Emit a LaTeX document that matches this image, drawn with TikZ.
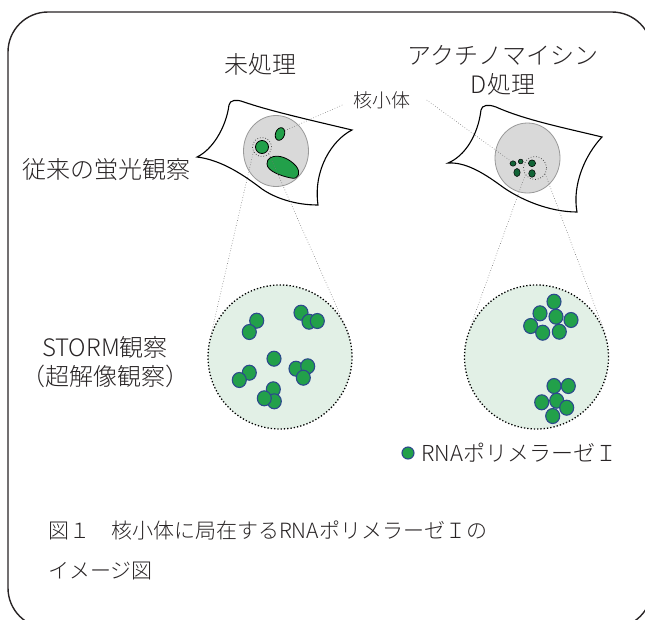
\documentclass[tikz,border=0pt]{standalone}
\usepackage{fontspec}
\setmainfont{Noto Sans CJK JP Light}
\usepackage{tikz}

\definecolor{txtgray}{RGB}{40,36,37}
\definecolor{polgreen}{RGB}{34,160,74}
\definecolor{poledge}{RGB}{44,74,140}
\definecolor{nucgray}{RGB}{217,217,217}
\definecolor{fieldmint}{RGB}{226,240,230}
\definecolor{darkgreen}{RGB}{18,100,55}

\begin{document}
\begin{tikzpicture}[x=1pt, y=-1pt,
    lbl/.style={text=txtgray, inner sep=0pt, font=\fontsize{24}{29}\selectfont},
    cell/.style={draw=black, line width=1.1pt, fill=white},
    nuc/.style={draw=gray!80, line width=0.8pt, fill=nucgray},
    blob/.style={draw=black, line width=0.8pt, fill=polgreen},
    pol/.style={draw=poledge, line width=1.1pt, fill=polgreen},
    guia/.style={dotted, gray!90!black, line width=0.6pt},
    lupa/.style={circle, draw=black!80, dotted, line width=0.7pt, inner sep=0pt},
    campo/.style={circle, draw=black, dotted, line width=1.3pt, fill=fieldmint, minimum size=144pt, inner sep=0pt}]
    \useasboundingbox (0,0) rectangle (645,619);

    % marco redondeado (cortado a la derecha y abajo)
    \begin{scope}
        \clip (0,0) rectangle (645,619);
        \draw[txtgray, line width=1.4pt, rounded corners=40pt] (8,12) rectangle (652,628);
    \end{scope}

    % titulos
    \node[lbl] (sinproc) at (260,64) {未処理};
    \node[lbl, align=center] (actd) at (503,70) {アクチノマイシン\\D処理};
    \node[lbl, anchor=west] (conv) at (22,170) {従来の蛍光観察};
    \node[lbl, align=center] (storm) at (105,362) {STORM観察\\（超解像観察）};

    % celula sin tratar
    \draw[cell] (197,157)
        .. controls (212,150) and (226,128) .. (229,105)
        .. controls (230,100) and (236,99) .. (244,102)
        .. controls (270,111) and (310,120) .. (352,130)
        .. controls (332,140) and (313,170) .. (318,205)
        .. controls (295,205) and (275,198) .. (262,189)
        .. controls (245,176) and (222,160) .. (197,157) -- cycle;
    \draw[nuc] (276,151) ellipse (32.5 and 35.5);
    \draw[blob, rotate around={-20:(280,134)}] (280,134) ellipse (4.5 and 6.5);
    \draw[blob] (262,147) circle (6.5);
    \draw[blob] (270,158) .. controls (278,153) and (290,159) .. (296,166)
        .. controls (301,172) and (299,180) .. (291,178)
        .. controls (281,176) and (267,171) .. (267,164)
        .. controls (267,161) and (268,159) .. (270,158) -- cycle;
    \node[lupa, minimum size=19pt] (lupaL) at (262,147) {};

    % celula con actinomicina D
    \draw[cell] (448,163)
        .. controls (465,156) and (478,135) .. (481,110)
        .. controls (482,105) and (488,104) .. (496,107)
        .. controls (525,120) and (565,128) .. (602,137)
        .. controls (585,155) and (572,185) .. (577,212)
        .. controls (550,212) and (520,200) .. (500,185)
        .. controls (482,172) and (465,162) .. (448,163) -- cycle;
    \draw[nuc] (527.5,158) ellipse (32.5 and 35);
    \foreach \x/\y/\rx/\ry in {513/163.5/3/2.7, 520.7/161.5/2.4/2.4, 532/163.3/3.6/3.4,
                               517/172.5/3.2/4, 532/173.5/3.3/3.8}
        \draw[black, line width=0.5pt, fill=darkgreen] (\x,\y) ellipse ({\rx} and {\ry});
    \node[lupa, minimum size=23pt] (lupaR) at (535,168) {};

    % nucleolo
    \node[lbl, font=\fontsize{19}{23}\selectfont] (nucleolo) at (382,100) {核小体};
    \coordinate (nucL) at (284,131);
    \coordinate (nucR) at (512,162);
    \draw[guia] ([xshift=-11pt, yshift=-5pt]nucleolo.west) -- (nucL);
    \draw[guia] ([xshift=16pt, yshift=0pt]nucleolo.east) -- (nucR);

    % campos STORM
    \node[campo] (campoL) at (280,357) {};
    \node[campo] (campoR) at (536.5,357) {};
    \draw[guia] (lupaL.209) -- (campoL.161);
    \draw[guia] (lupaL.315) -- (campoL.17);
    \draw[guia] (lupaR.215) -- (campoR.157);
    \draw[guia] (lupaR.330) -- (campoR.19);

    % RNA polimerasa I
    \foreach \x/\y in {256.7/320.7, 249.3/332, 301/312.7, 309/321.7, 317.3/321,
                       274/358.7, 249.3/372.7, 239.3/380, 296/368.7, 307.7/366.3,
                       303.3/377.7, 273.3/389.3, 274.3/401.3, 264.3/398.3}
        \draw[pol] (\x,\y) ellipse (7 and 7.5);
    \foreach \x/\y in {554/301.7, 540/313.3, 556/316.7, 571/320, 530.7/326,
                       542.7/332.7, 559.3/331.7, 554/386, 568.3/386, 541.7/402.3,
                       556.7/400.7, 566.7/407.7, 552.7/416}
        \draw[pol] (\x,\y) ellipse (7 and 7.5);

    % leyenda
    \draw[pol] (408,453) circle (6);
    \node[lbl, anchor=west, font=\fontsize{22}{26}\selectfont] (leyenda) at (421,453) {RNAポリメラーゼＩ};

    % pie de figura
    \node[lbl, anchor=west, align=left, font=\fontsize{21}{40}\selectfont] (pie) at (48,550)
        {図１　核小体に局在するRNAポリメラーゼＩの\\イメージ図};
\end{tikzpicture}
\end{document}
